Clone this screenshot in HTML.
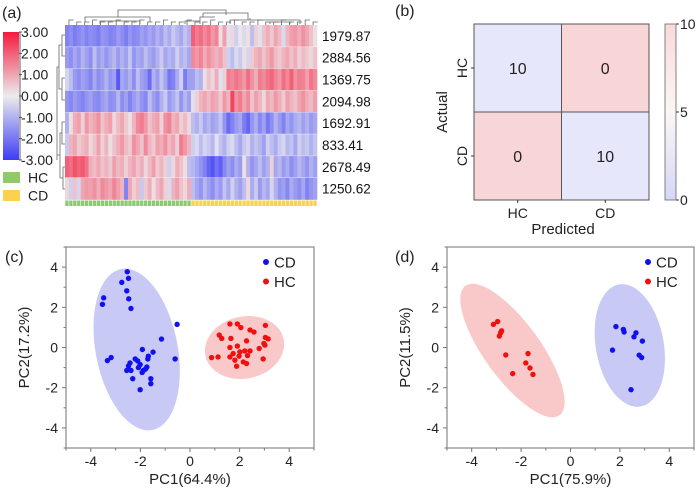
<!DOCTYPE html>
<html><head><meta charset="utf-8"><style>
body{margin:0;background:#fff;}
svg{display:block;font-family:"Liberation Sans",sans-serif;}
</style></head><body>
<svg id="fig" width="700" height="489" viewBox="0 0 700 489" xmlns="http://www.w3.org/2000/svg">
<g id="pa"></g>
<g id="pb"></g>
<g id="pc"></g>
<g id="pd"></g>
</svg>
<script>
// ---------- Panel (a) data ----------
const rowLabels = ["1979.87","2884.56","1369.75","2094.98","1692.91","833.41","2678.49","1250.62"];
const groupLabels = ["HC","CD"];
const heatRows = [
 [-1.8,-1.6,-1.9,-1.7,-1.5,-1.8,-1.6,-1.7,-1.9,-1.5,-1.6,-1.8,-1.7,-1.4,-1.6,-1.9,-1.5,-1.7,-1.6,-1.3,-1.5,-1.2,-1.4,-1.0,-1.3,-0.8,-1.1,-0.6,-0.9,-1.2,-0.7,-1.0,
  2.0,1.6,1.8,1.4,1.7,1.2,1.5,0.2,1.1,-0.2,0.3,-0.5,0.1,-0.3,0.2,-0.8,0.4,-0.2,0.6,0.9,0.5,1.0,0.7,-0.3,0.8,1.1,1.2,0.9,1.3,1.0,0.6,0.2],
 [-1.4,-1.6,-1.2,-1.5,-1.0,-1.3,-1.6,-0.8,-1.4,-1.1,-1.5,-1.2,-0.9,-1.4,-1.0,-1.3,-0.7,-1.5,-1.1,-1.3,-0.8,-1.2,-1.4,-1.0,-0.6,-1.2,-0.9,-1.1,-0.5,-1.0,-0.8,-1.2,
  1.4,1.2,1.5,0.9,1.3,1.0,0.8,1.1,0.6,-0.5,-0.8,-0.3,-0.6,0.2,-0.4,0.5,0.8,1.0,0.6,0.9,1.2,0.7,0.5,0.8,1.0,0.6,0.9,0.4,0.7,0.5,0.3,0.6],
 [-0.4,-0.8,-1.4,-1.6,-1.3,-1.5,-1.8,-1.2,-1.6,-1.4,-1.0,-1.5,-1.3,-2.5,-1.2,-1.4,-1.0,-1.6,-0.8,-1.3,-1.5,-2.2,-1.0,-1.4,-0.7,-1.2,-2.0,-1.8,-1.1,-0.5,-1.9,-1.3,
  -1.3,-0.8,-1.0,0.2,0.6,0.3,0.9,-0.2,0.4,1.6,1.4,1.7,1.5,1.2,1.8,1.3,0.9,1.6,1.4,1.7,1.9,1.5,1.2,1.8,1.4,2.0,1.3,1.6,1.5,1.1,1.7,1.4],
 [-1.5,-1.7,-1.4,-1.6,-1.8,-1.5,-1.3,-1.6,-1.7,-1.4,-1.2,-1.6,-1.5,-0.9,-1.6,-1.3,-1.8,-1.4,-1.1,-1.5,-1.7,-0.8,-1.3,-1.6,-1.0,-0.6,-1.4,-1.1,-0.7,-1.5,-0.9,-1.3,
  -0.2,0.4,0.8,1.0,0.7,1.1,0.9,0.5,1.2,0.8,2.4,1.3,1.6,1.0,1.4,0.6,1.1,0.8,0.3,1.0,0.7,1.2,0.9,0.5,1.1,0.8,0.6,1.0,1.3,0.9,0.7,1.1],
 [-1.0,0.2,0.9,1.1,0.4,1.2,0.8,1.0,1.3,0.6,0.9,1.1,0.3,0.7,1.0,0.5,0.2,0.8,1.4,1.6,1.2,0.6,0.9,1.1,0.4,1.3,1.5,0.8,1.0,0.4,0.7,0.3,
  -0.8,-1.0,-0.6,-1.2,-0.9,-1.3,-1.1,-0.7,-1.5,-2.2,-1.8,-1.4,-1.2,-1.9,-2.3,-1.5,-1.1,-1.7,-1.3,-2.0,-1.6,-1.0,-1.4,-1.8,-1.2,-1.5,-1.1,-0.9,-1.3,-1.0,-1.4,-1.2],
 [-0.6,0.8,1.0,0.5,0.7,0.9,0.3,0.6,1.1,0.4,0.8,0.2,0.6,0.9,1.2,0.7,0.5,1.3,1.0,0.6,1.4,0.8,0.5,1.1,0.9,1.3,0.7,1.0,0.4,1.6,1.2,0.8,
  -0.5,-0.3,-0.8,-0.4,-0.6,-0.9,-0.2,-0.7,-1.0,-0.5,-0.3,-0.8,-1.2,-0.6,-0.4,-1.0,-0.7,-0.9,-1.3,-0.5,-0.8,-1.1,-0.6,-0.4,-0.9,-0.7,-1.2,-0.5,-0.8,-0.6,-1.0,-0.7],
 [2.0,1.8,2.2,1.9,2.1,1.7,0.9,0.7,1.0,0.6,0.8,0.5,1.1,0.7,0.9,0.4,0.8,1.0,0.6,0.9,0.3,0.7,1.1,0.5,0.8,0.4,-0.5,0.3,0.9,0.6,0.2,-0.8,
  -0.9,-1.2,-1.5,-1.8,-2.3,-2.6,-2.1,-2.4,-1.7,-1.3,-1.6,-1.1,-1.4,0.2,-1.0,-1.5,-1.2,-0.8,-1.3,-1.0,0.4,-1.2,-0.9,-1.4,-1.1,-1.6,-1.3,-0.9,-1.2,-1.5,-1.0,-1.3],
 [0.3,-0.5,0.6,-0.4,1.0,1.2,1.1,1.3,0.9,1.4,1.2,1.0,1.5,1.1,0.8,-1.8,1.0,0.4,0.7,-0.6,0.5,0.9,0.2,0.7,1.0,0.4,-0.3,0.8,1.1,0.6,0.3,0.9,
  -0.8,-1.2,-1.5,-0.9,-1.3,-1.6,-1.1,-1.4,-0.7,-1.2,-0.5,-1.0,-1.3,-0.8,0.3,-1.1,-0.6,-1.4,-0.9,-1.2,-0.4,-1.0,-1.5,-1.3,-1.7,-1.1,-1.4,-1.6,-1.2,-1.8,-1.5,-1.3]
];
const groupCounts = [32,32];
const colorbarTicks = ["3.00","2.00","1.00","0.00","-1.00","-2.00","-3.00"];

// ---------- Panel (b) data ----------
const cmLabels = ["HC","CD"];
const cmValues = [[10,0],[0,10]];
const cmBarTicks = [10,5,0];

// ---------- Panel (c) data ----------
const cdX_c = [-2.53,-2.48,-2.75,-2.55,-2.47,-2.38,-3.48,-3.53,-0.52,-1.15,-0.6,-3.33,-3.18,-1.92,-1.49,-1.68,-1.7,-2.21,-2.11,-2.42,-2.48,-2.01,-2.08,-1.74,-2.55,-2.38,-1.93,-1.88,-2.31,-1.58,-1.58,-2.01,-1.79];
const cdY_c = [3.77,3.44,3.24,2.82,2.42,1.94,2.47,2.15,1.15,0.42,-0.57,-0.65,-0.5,-0.1,-0.23,-0.43,-0.57,-0.57,-0.67,-0.77,-0.92,-0.85,-1.0,-0.97,-1.14,-1.14,-1.24,-1.14,-1.55,-1.55,-1.8,-2.1,-1.07];
const hcX_c = [1.61,1.91,2.05,3.04,2.42,2.58,1.18,1.28,1.65,2.28,3.04,3.15,2.98,3.02,1.91,1.61,2.79,2.42,2.21,2.01,1.74,1.61,1.98,2.32,0.87,1.13,1.81,2.15,2.28,1.88,2.95];
const hcY_c = [1.17,1.17,0.99,1.1,0.87,0.77,0.62,0.45,0.45,0.33,0.5,0.43,0.2,0.12,0.07,0,-0.05,-0.17,-0.17,-0.22,-0.3,-0.47,-0.43,-0.4,-0.5,-0.47,-0.63,-0.72,-0.8,-0.93,-0.57];
// ---------- Panel (d) data ----------
const cdX_d = [1.84,2.14,2.17,2.65,2.57,2.91,1.70,2.78,2.88,2.45];
const cdY_d = [1.04,0.9,0.77,0.73,0.53,0.32,-0.13,-0.38,-0.5,-2.1];
const hcX_d = [-3.12,-2.95,-2.79,-2.88,-2.62,-2.34,-1.72,-1.81,-1.64,-1.52,-2.83];
const hcY_d = [1.15,1.29,0.83,0.57,-0.37,-1.3,-0.3,-0.77,-1.02,-1.34,0.73];
const axisTicks = [-4,-2,0,2,4];

const NS="http://www.w3.org/2000/svg";
function mk(parent,tag,attrs,text){const e=document.createElementNS(NS,tag);for(const k in attrs)e.setAttribute(k,attrs[k]);if(text!==undefined)e.textContent=text;parent.appendChild(e);return e;}
function lerp(a,b,t){return Math.round(a+(b-a)*t);}
function heatColor(v){
  const t=Math.max(-3,Math.min(3,v))/3;
  const mid=[236,236,238], hi=[245,25,60], lo=[60,60,245];
  const c=t>=0?hi:lo, a=Math.abs(t);
  return `rgb(${lerp(mid[0],c[0],a)},${lerp(mid[1],c[1],a)},${lerp(mid[2],c[2],a)})`;
}

// ===== Panel A =====
(function(){
const g=document.getElementById('pa');
let t=mk(g,'text',{x:2,y:18,'font-size':16,fill:'#222'},'(a)');

const x0=65,x1=317,y0=25,y1=199.5;
const nCols=heatRows[0].length,nRows=heatRows.length;
const cw=(x1-x0)/nCols,rh=(y1-y0)/nRows;
heatRows.forEach((row,r)=>{row.forEach((v,c)=>{
  const rc=mk(g,'rect',{x:x0+c*cw,y:y0+r*rh,width:cw+0.3,height:rh+0.3,fill:heatColor(v)});
  
  
});
 const lbl=mk(g,'text',{x:322,y:y0+(r+0.5)*rh+5,'font-size':13.5,fill:'#111'},rowLabels[r]);
 
 
});
// thin white row separators
for(let r=1;r<nRows;r++){const l=mk(g,'line',{x1:x0,x2:x1,y1:y0+r*rh,y2:y0+r*rh,stroke:'#fff','stroke-width':0.6,opacity:0.6});}
// group annotation bar
let c0=0;groupCounts.forEach((n,gi)=>{for(let i=0;i<n;i++){const rc=mk(g,'rect',{x:x0+(c0+i)*cw+0.3,y:200.5,width:cw-0.6,height:5.5,fill:gi===0?'#8fc96a':'#fdd14f'});}c0+=n;});
// top dendrogram (simplified)
const dg=mk(g,'g',{stroke:'#666','stroke-width':0.8,fill:'none'});

mk(dg,'path',{d:`M118 15 V10 H226 V15 M226 15 V13 H248 V18 M118 15 V17 M203 13 V17 M248 18 V20 M203 13 H226`});
mk(dg,'path',{d:`M85 22 V17 H150 V22 M100 24 V21 H140 V24 M150 17 V19 M185 24 V21 H200 V24 M200 21 V17 H215 M230 24 V20 H300 V24 M250 20 V18 M270 24 V22 H290 V24`});
let p='';for(let c=0;c<nCols;c+=2){const x=x0+c*cw+cw;p+=`M${x} 25 V${22-(c%6===0?2:0)} H${x+cw*1.2}`;}
mk(dg,'path',{d:p});
// left dendrogram
const lg=mk(g,'g',{stroke:'#666','stroke-width':0.8,fill:'none'});

mk(lg,'path',{d:`M65 35 H62 V56 H65 M62 45 H59 V67 M65 78 H62 V100 H65 M62 89 H60 M59 67 H57 V160 M59 67 V89 H60 M65 122 H62 V144 H65 M62 133 H60 V178 M65 167 H63 V189 H65 M63 178 H60 M60 155 H57`});
// colorbar
const defs=mk(g,'defs',{});
const gr=mk(defs,'linearGradient',{id:'cbA',x1:0,y1:0,x2:0,y2:1});
mk(gr,'stop',{offset:'0','stop-color':heatColor(3)});mk(gr,'stop',{offset:'0.5','stop-color':heatColor(0)});mk(gr,'stop',{offset:'1','stop-color':heatColor(-3)});
const cb=mk(g,'rect',{x:3,y:32,width:16,height:128,fill:'url(#cbA)'});

colorbarTicks.forEach((s,i)=>{const y=32+i*128/(colorbarTicks.length-1);
 const tk=mk(g,'line',{x1:19,x2:22,y1:y,y2:y,stroke:'#333','stroke-width':0.8});
 const tl=mk(g,'text',{x:21,y:y+5,'font-size':14,fill:'#222'},s);});
mk(g,'line',{x1:20,x2:20,y1:32,y2:160,stroke:'#333','stroke-width':0.8});
// group legend
[['#8fc96a',172],['#fdd14f',190]].forEach((d,i)=>{
 const r=mk(g,'rect',{x:3,y:d[1],width:17,height:11,fill:d[0]});
 const tt=mk(g,'text',{x:28,y:d[1]+10.5,'font-size':14,fill:'#222'},groupLabels[i]);});
})();

// ===== Panel B =====
(function(){
const g=document.getElementById('pb');
let t=mk(g,'text',{x:395,y:16,'font-size':16,fill:'#222'},'(b)');
const x0=474,y0=24,w=175,h=176;const cw=w/2,ch=h/2;
cmValues.forEach((row,r)=>row.forEach((v,c)=>{
 const fill=v>=5?'#e6e7fb':'#f8d5d7';
 const rc=mk(g,'rect',{x:x0+c*cw,y:y0+r*ch,width:cw,height:ch,fill:fill,stroke:'#555','stroke-width':1});
 
 const tx=mk(g,'text',{x:x0+(c+0.5)*cw,y:y0+(r+0.5)*ch+6,'font-size':16,'text-anchor':'middle',fill:'#222'},String(v));
 
}));
cmLabels.forEach((s,i)=>{
 const ly=y0+(i+0.5)*ch;
 mk(g,'line',{x1:x0-3,x2:x0,y1:ly,y2:ly,stroke:'#333'});
 const a=mk(g,'text',{x:x0-7,y:ly,'font-size':14,'text-anchor':'middle',fill:'#222',transform:`rotate(-90 ${x0-7} ${ly})`},s);
 
 const lx=x0+(i+0.5)*cw;
 mk(g,'line',{x1:lx,x2:lx,y1:y0+h,y2:y0+h+3,stroke:'#333'});
 const b=mk(g,'text',{x:lx,y:218,'font-size':14,'text-anchor':'middle',fill:'#222'},s);
 
});
let a=mk(g,'text',{x:442,y:112,'font-size':15,'text-anchor':'middle',fill:'#222',transform:'rotate(-90 442 112)',dy:5},'Actual');
let p=mk(g,'text',{x:563,y:234,'font-size':15,'text-anchor':'middle',fill:'#222'},'Predicted');
const defs=mk(g,'defs',{});const gr=mk(defs,'linearGradient',{id:'cbB',x1:0,y1:0,x2:0,y2:1});
mk(gr,'stop',{offset:'0','stop-color':'#f9d9da'});mk(gr,'stop',{offset:'0.5','stop-color':'#fbf7f4'});mk(gr,'stop',{offset:'1','stop-color':'#d6d6f8'});
const cb=mk(g,'rect',{x:665,y:24,width:11,height:176,fill:'url(#cbB)',stroke:'#666','stroke-width':0.8});
cmBarTicks.forEach(v=>{const y=24+(10-v)/10*176;mk(g,'line',{x1:676,x2:679,y1:y,y2:y,stroke:'#333'});
 const tt=mk(g,'text',{x:680,y:y+5,'font-size':14,fill:'#222'},String(v));});
})();

// ===== Scatter panels =====
function scatter(gid,opt){
 const g=document.getElementById(gid);
 const {L,R,T,B,xlab,ylab,label,labX,ellipses,series,legX}=opt;
 const sx=v=>L+(v+5)/10*(R-L), sy=v=>B-(v+5)/10*(B-T);
 let t=mk(g,'text',{x:labX,y:262,'font-size':16,fill:'#222'},label);
 ellipses.forEach(e=>{const el=mk(g,'ellipse',{cx:sx(e.cx),cy:sy(e.cy),rx:e.rx,ry:e.ry,fill:e.fill,transform:`rotate(${e.ang} ${sx(e.cx)} ${sy(e.cy)})`});
  });
 const fr=mk(g,'rect',{x:L,y:T,width:R-L,height:B-T,fill:'none',stroke:'#888','stroke-width':1.2});
 for(let v=-5;v<=5;v++){const major=v%2===0;const len=major?4:2.5;
  mk(g,'line',{x1:sx(v),x2:sx(v),y1:B,y2:B+len,stroke:'#777'});
  mk(g,'line',{x1:L-len,x2:L,y1:sy(v),y2:sy(v),stroke:'#777'});}
 axisTicks.forEach(v=>{
  const a=mk(g,'text',{x:sx(v),y:B+18,'font-size':14,'text-anchor':'middle',fill:'#222'},String(v));
  const b=mk(g,'text',{x:L-8,y:sy(v)+5,'font-size':14,'text-anchor':'end',fill:'#222'},String(v));});
 let xl=mk(g,'text',{x:(L+R)/2,y:484,'font-size':15,'text-anchor':'middle',fill:'#222'},xlab);
 const yx=L-37,yy=(T+B)/2;
 let yl=mk(g,'text',{x:yx,y:yy,'font-size':15,'text-anchor':'middle',fill:'#222',transform:`rotate(-90 ${yx} ${yy})`},ylab);
 series.forEach((s,si)=>{
  s.x.forEach((xv,i)=>{const c=mk(g,'circle',{cx:sx(xv),cy:sy(s.y[i]),r:2.7,fill:s.color});
   });
  const ly=262+si*19.5;
  const d=mk(g,'circle',{cx:legX,cy:ly,r:3,fill:s.color});
  const lt=mk(g,'text',{x:legX+8,y:ly+5.5,'font-size':15,fill:'#222'},s.label);
 });
}
scatter('pc',{L:66,R:314,T:247,B:448,label:'(c)',labX:5,legX:266,xlab:'PC1(64.4%)',ylab:'PC2(17.2%)',
 ellipses:[{name:'cd-confidence-ellipse',cx:-2.15,cy:-0.1,rx:41,ry:82,ang:-11,fill:'#c9c9f6'},
           {name:'hc-confidence-ellipse',cx:2.2,cy:0,rx:40,ry:31,ang:-12,fill:'#f8c9c8'}],
 series:[{name:'cd',label:'CD',color:'#1010f0',x:cdX_c,y:cdY_c},{name:'hc',label:'HC',color:'#f01010',x:hcX_c,y:hcY_c}]});
scatter('pd',{L:447,R:694,T:247,B:448,label:'(d)',labX:395,legX:648,xlab:'PC1(75.9%)',ylab:'PC2(11.5%)',
 ellipses:[{name:'hc-confidence-ellipse',cx:-2.35,cy:-0.15,rx:80,ry:28,ang:54,fill:'#f8c9c8'},
           {name:'cd-confidence-ellipse',cx:2.4,cy:0.1,rx:34,ry:62,ang:-10,fill:'#c9c9f6'}],
 series:[{name:'cd',label:'CD',color:'#1010f0',x:cdX_d,y:cdY_d},{name:'hc',label:'HC',color:'#f01010',x:hcX_d,y:hcY_d}]});
</script>
</body></html>
